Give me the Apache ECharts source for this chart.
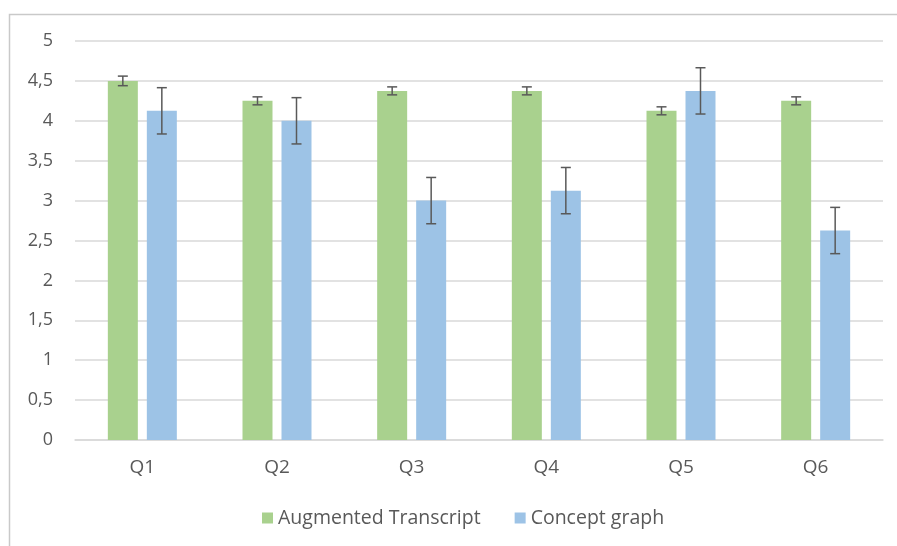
<!DOCTYPE html>
<html>
<head>
<meta charset="utf-8">
<script src="https://cdn.jsdelivr.net/npm/echarts@6/dist/echarts.min.js"></script>
<style>
  html, body { margin: 0; padding: 0; background: #fff; }
  #chart { width: 897px; height: 546px; }
</style>
</head>
<body>
<div id="chart"></div>
<script>
const categories = ['Q1', 'Q2', 'Q3', 'Q4', 'Q5', 'Q6'];
const augmented = [4.5, 4.25, 4.375, 4.375, 4.125, 4.25];
const augmentedErr = [0.06, 0.05, 0.05, 0.05, 0.05, 0.05];
const concept = [4.125, 4.0, 3.0, 3.125, 4.375, 2.625];
const conceptErr = [0.29, 0.29, 0.29, 0.29, 0.29, 0.29];

const textColor = '#595959';
const font = 'Open Sans';
const barW = 30;
const gap = 9;

function errorSeries(values, errs, side) {
  const data = values.map((v, i) => [i, v - errs[i], v + errs[i]]);
  return {
    type: 'custom',
    silent: true,
    z: 10,
    data: data,
    renderItem: function (params, api) {
      const i = api.value(0);
      const lo = api.coord([i, api.value(1)]);
      const hi = api.coord([i, api.value(2)]);
      const x = lo[0] + side * (barW / 2 + gap / 2);
      const cap = 5;
      const style = { stroke: textColor, lineWidth: 1.5 };
      return {
        type: 'group',
        children: [
          { type: 'line', shape: { x1: x, y1: lo[1], x2: x, y2: hi[1] }, style: style },
          { type: 'line', shape: { x1: x - cap, y1: lo[1], x2: x + cap, y2: lo[1] }, style: style },
          { type: 'line', shape: { x1: x - cap, y1: hi[1], x2: x + cap, y2: hi[1] }, style: style }
        ]
      };
    }
  };
}

const chart = echarts.init(document.getElementById('chart'), null, { renderer: 'canvas' });
chart.setOption({
  animation: false,
  textStyle: { fontFamily: font },
  graphic: [{
    type: 'rect',
    shape: { x: 9.5, y: 14.5, width: 900, height: 540 },
    style: { fill: null, stroke: '#c9c9c9', lineWidth: 1.5 },
    silent: true
  }],
  grid: { left: 75, right: 14, top: 41, bottom: 106 },
  legend: {
    bottom: 13,
    left: 257,
    itemWidth: 11,
    itemHeight: 11,
    itemGap: 34,
    icon: 'rect',
    textStyle: { color: textColor, fontSize: 19.5, fontFamily: font },
    data: ['Augmented Transcript', 'Concept graph']
  },
  xAxis: {
    type: 'category',
    data: categories,
    axisTick: { show: false },
    axisLine: { lineStyle: { color: '#d9d9d9', width: 1.5 } },
    axisLabel: { color: textColor, fontSize: 19, margin: 18, fontFamily: font }
  },
  yAxis: {
    type: 'value',
    min: 0,
    max: 5,
    interval: 0.5,
    axisLine: { show: false },
    axisTick: { show: false },
    splitLine: { lineStyle: { color: '#d9d9d9', width: 1.5 } },
    axisLabel: {
      color: textColor,
      fontSize: 18,
      margin: 22,
      fontFamily: font,
      formatter: v => String(v).replace('.', ',')
    }
  },
  series: [
    {
      name: 'Augmented Transcript',
      type: 'bar',
      data: augmented,
      barWidth: barW,
      barGap: (gap / barW * 100) + '%',
      itemStyle: { color: '#a9d18e' }
    },
    {
      name: 'Concept graph',
      type: 'bar',
      data: concept,
      barWidth: barW,
      itemStyle: { color: '#9dc3e6' }
    },
    errorSeries(augmented, augmentedErr, -1),
    errorSeries(concept, conceptErr, 1)
  ]
});
</script>
</body>
</html>
